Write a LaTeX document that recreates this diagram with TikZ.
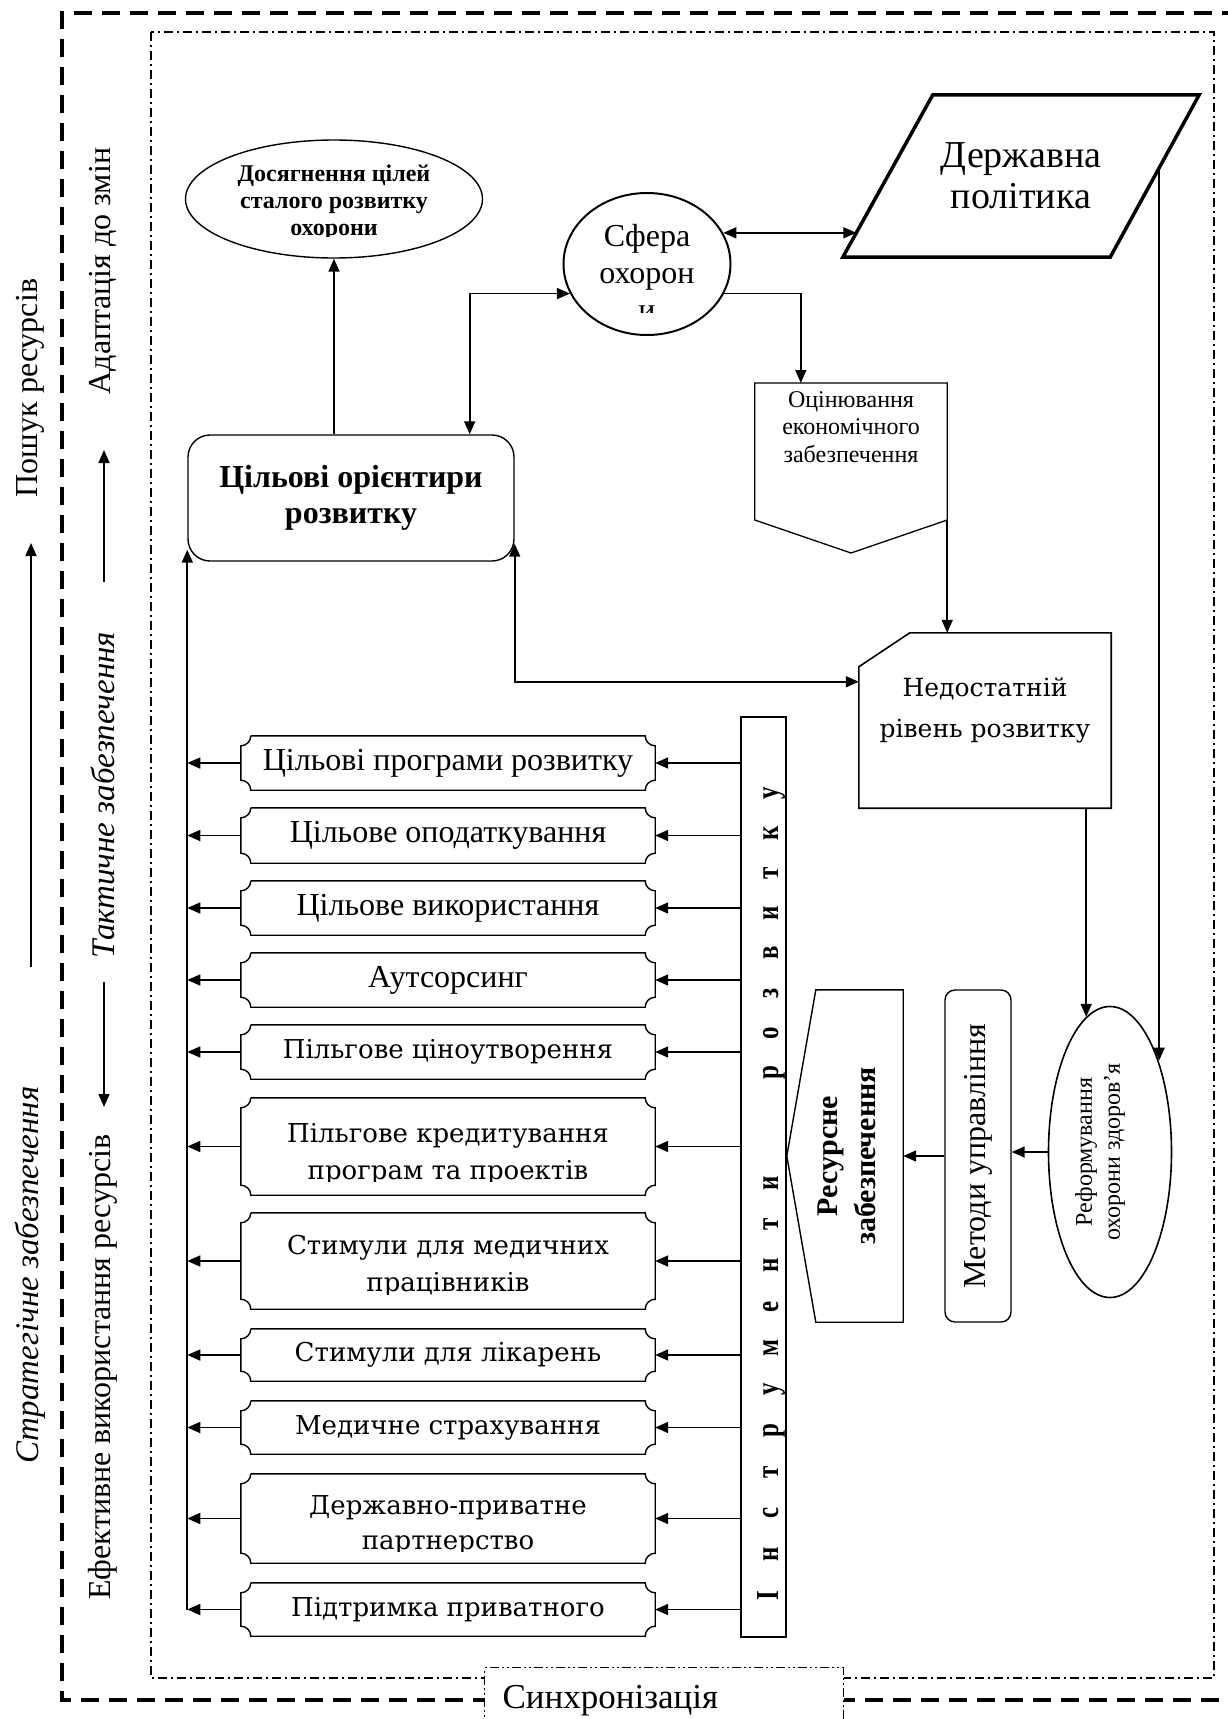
\documentclass[tikz,border=0pt]{standalone}
\usepackage{fontspec}
\setmainfont{Liberation Serif}
\newfontfamily\widefont{DejaVu Serif}
\usetikzlibrary{positioning,shapes.geometric,arrows.meta,calc}

\newcommand{\fsz}[2]{\fontsize{#1}{#2}\selectfont}
% outline with concave corners for the instrument boxes
\newcommand{\plaque}[1]{%
  \draw[line width=1.4pt]
    ($(#1.north west)+(10,0)$) -- ($(#1.north east)+(-10,0)$)
    .. controls +(0,5.5) and +(-5.5,0) .. ($(#1.north east)+(0,10)$)
    -- ($(#1.south east)+(0,-10)$)
    .. controls +(-5.5,0) and +(0,-5.5) .. ($(#1.south east)+(-10,0)$)
    -- ($(#1.south west)+(10,0)$)
    .. controls +(0,-5.5) and +(5.5,0) .. ($(#1.south west)+(0,-10)$)
    -- ($(#1.north west)+(0,10)$)
    .. controls +(5.5,0) and +(0,5.5) .. ($(#1.north west)+(10,0)$);}

\begin{document}
\begin{tikzpicture}[x=1pt,y=-1pt,
  conn/.style={line width=1.7pt},
  box/.style={draw,line width=1.4pt,inner sep=0pt,align=center},
  item/.style={inner sep=0pt,minimum width=414pt,align=center,font=\fsz{32}{36}},
  witem/.style={item,font=\widefont\fsz{26}{37}},
  side/.style={rotate=90,inner sep=0pt,font=\fsz{32}{36}},
  sideit/.style={side,font=\itshape\fsz{33}{36}},
  letter/.style={rotate=90,inner sep=0pt,anchor=base,font=\bfseries\fsz{32}{32}},
  >={Triangle[length=13pt,width=11pt]}
]

  \useasboundingbox (0,0) rectangle (1228,1719);

  %% ===== FRAMES =====

  % outer frame, open to the right
  \draw[line width=3.5pt,dash pattern=on 18pt off 10pt]
    (1240,13) -- (62,13) -- (62,1700) -- (1240,1700);
  % inner frame
  \draw[line width=1.2pt,dash pattern=on 9pt off 4pt on 2pt off 4pt]
    (151,32) rectangle (1214,1678);
  % tab on the bottom edge
  \node[draw,fill=white,line width=1.2pt,
        dash pattern=on 9pt off 3pt on 2pt off 3pt on 2pt off 3pt,
        anchor=north west,minimum height=66pt,inner xsep=18pt,
        text width=323pt,align=left,font=\fsz{35}{38}]
    (sync) at (484,1667) {Синхронізація};

  %% ===== SIDE LABELS =====

  \node[side] (poshuk) at (30,388) {Пошук ресурсів};
  \node[sideit] (strat) at (30,1275) {Стратегічне забезпечення};
  \node[side] (adapt) at (103,271) {Адаптація до змін};
  \node[sideit] (takt) at (103,795) {Тактичне забезпечення};
  \node[side] (efekt) at (103,1367) {Ефективне використання ресурсів};

  \coordinate (s1) at (31,967);  \coordinate (s2) at (31,543);
  \coordinate (t1) at (104,582); \coordinate (t2) at (104,450);
  \coordinate (t3) at (104,982); \coordinate (t4) at (104,1107);
  \draw[->,conn] (s1) -- (s2);
  \draw[->,conn] (t1) -- (t2);
  \draw[->,conn] (t3) -- (t4);

  %% ===== UPPER PART =====

  % goal ellipse (text cut at the bottom)
  \node[ellipse,draw,line width=1.4pt,minimum width=297pt,minimum height=118pt,
        inner sep=0pt] (dosyag) at (334,199) {};
  \begin{scope}
    \clip (180,140) rectangle (490,236);
    \node[font=\bfseries\fsz{24}{27},align=center] (dosyagtxt) at (334,203)
      {Досягнення цілей\\сталого розвитку\\охорони};
  \end{scope}

  % development targets
  \node[box,rounded corners=22pt,minimum width=326pt,minimum height=126pt,
        font=\bfseries\fsz{32}{36}] (orient) at (351,498)
    {Цільові орієнтири\\розвитку};

  % sphere circle (text cut at the bottom)
  \node[ellipse,draw,line width=2pt,minimum width=167pt,minimum height=142pt,
        inner sep=0pt] (sfera) at (647,264) {};
  \begin{scope}
    \clip (560,190) rectangle (735,312);
    \node[font=\fsz{32}{37},align=center] (sferatxt) at (647,272)
      {Сфера\\охорон\\и};
  \end{scope}

  % state policy parallelogram
  \node[minimum width=356pt,minimum height=162pt,inner sep=0pt,align=center,
        font=\fsz{38}{41}] (derzh) at (1021,176) {Державна\\політика};
  \draw[line width=3.5pt]
    (derzh.south west) -- coordinate[pos=0.15] (derzhl) ($(derzh.north west)+(90,0)$)
    -- (derzh.north east) -- coordinate[pos=0.45] (derzhr) ($(derzh.south east)+(-89,0)$)
    -- cycle;

  % assessment block, pointed bottom
  \node[anchor=north,minimum width=192pt,inner xsep=0pt,inner ysep=8pt,align=center,
        font=\fsz{24}{27.5}] (ocin) at (851,383)
    {Оцінювання\\економічного\\забезпечення};
  \draw[line width=1.3pt] (ocin.north west) -- (ocin.north east) -- ++(0,137) coordinate (ocinr)
    -- ($(ocin.north)+(0,170)$) -- ($(ocin.north west)+(0,137)$) -- cycle;

  % insufficient level, cut corner
  \node[minimum width=252pt,minimum height=175pt,inner sep=0pt] (nedost) at (985,720.5) {};
  \draw[line width=1.6pt] ($(nedost.north west)+(51,0)$) -- (nedost.north east)
    -- (nedost.south east) -- (nedost.south west) -- ($(nedost.north west)+(0,34)$) -- cycle;
  \node[font=\widefont\fsz{25}{41},align=center] (nedosttxt) at ($(nedost.center)+(0,-10)$)
    {Недостатній\\рівень розвитку};

  % connectors, upper part
  \draw[->,conn] (orient.north -| dosyag.south) -- (dosyag.south);
  \draw[<->,conn] ($(orient.north east)+(-45,0)$) |- (sfera.201);
  \draw[<->,conn] (sfera.22 |- derzhl) -- (derzhl);
  \draw[->,conn] (sfera.339) -| ($(ocin.north west)+(46,0)$);
  \draw[->,conn] (ocinr) -- (ocinr |- nedost.north);
  \draw[<->,conn] ($(orient.south east)+(0,-18)$) |- ($(nedost.north west)+(0,49)$);

  %% ===== RIGHT COLUMN =====

  \node[ellipse,draw,line width=1.6pt,minimum width=123pt,minimum height=291pt,
        inner sep=0pt] (reform) at (1110,1152) {};
  \node[rotate=90,align=center,font=\fsz{24}{28}] (reformtxt) at ($(reform.center)+(-10,0)$)
    {Реформування\\охорони здоров’я};

  \node[box,rounded corners=10pt,minimum width=66pt,minimum height=332pt,
        font=\fsz{32}{36}] (method) at (978,1156) {\rotatebox{90}{Методи управління}};

  \node[minimum width=87pt,minimum height=332pt,inner sep=0pt] (resurs) at (859.5,1156) {};
  \draw[line width=1.4pt] (resurs.north west) -- (resurs.north east) -- (resurs.south east)
    -- (resurs.south west) -- ($(resurs.west)+(-29,0)$) -- cycle;
  \node[rotate=90,align=center,font=\bfseries\fsz{30}{38}] (resurstxt)
    at ($(resurs.center)+(-13,0)$) {Ресурсне\\забезпечення};

  \draw[->,conn] (reform.100 |- nedost.south) -- (reform.100);
  \draw[->,conn] (derzhr) -- (derzhr |- reform.62);
  \draw[->,conn] (reform.west) -- (reform.west -| method.east);
  \draw[->,conn] (method.west) -- (method.west -| resurs.east);

  %% ===== INSTRUMENTS =====

  \node[draw,line width=1.4pt,minimum width=45pt,minimum height=920pt,inner sep=0pt]
    (instr) at (763.5,1177) {};
  \foreach \ch [count=\i] in {І,н,с,т,р,у,м,е,н,т,и}
    \node[letter] (ins\i) at (778,{1596-41.3*(\i-1)}) {\scalebox{0.78}[1]{\ch}};
  \foreach \ch [count=\i] in {р,о,з,в,и,т,к,у}
    \node[letter] (roz\i) at (778,{1073-40*(\i-1)}) {\scalebox{0.78}[1]{\ch}};

  % instrument boxes
  \node[item,minimum height=54pt] (i1) at (448,763) {Цільові програми розвитку};
  \node[item,minimum height=55pt] (i2) at (448,835.5) {Цільове оподаткування};
  \node[item,minimum height=54pt] (i3) at (448,908) {Цільове використання};
  \node[item,minimum height=54pt] (i4) at (448,980) {Аутсорсинг};
  \node[witem,minimum height=54pt] (i5) at (448,1052) {Пільгове ціноутворення};
  \node[item,minimum height=97pt] (i6) at (448,1146.5) {};
  \node[item,minimum height=96pt] (i7) at (448,1261) {};
  \node[witem,minimum height=52pt] (i8) at (448,1355) {Стимули для лікарень};
  \node[witem,minimum height=53pt] (i9) at (448,1427.5) {Медичне страхування};
  \node[item,minimum height=89pt] (i10) at (448,1518.5) {};
  \node[witem,minimum height=53pt] (i11) at (448,1609.5) {Підтримка приватного};

  % two-line texts, cut at the bottom
  \begin{scope}
    \clip (240,1098) rectangle (656,1181);
    \node[witem] (i6txt) at (448,1154.5) {Пільгове кредитування\\програм та проектів};
  \end{scope}
  \begin{scope}
    \clip (240,1213) rectangle (656,1294);
    \node[witem] (i7txt) at (448,1266.5) {Стимули для медичних\\працівників};
  \end{scope}
  \begin{scope}
    \clip (240,1474) rectangle (656,1551);
    \node[witem,font=\widefont\fsz{26}{35}] (i10txt) at (448,1525.5)
      {Державно-приватне\\партнерство};
  \end{scope}

  \foreach \n in {1,...,11} {
    \plaque{i\n}
    \draw[->,conn] (i\n.west) -- (i\n.west -| orient.west);
    \draw[->,conn] (i\n.east -| instr.west) -- (i\n.east);
  }

  % trunk to the targets box
  \draw[->,conn] (i11.west -| orient.west) -- ($(orient.south west)+(0,-12)$);

\end{tikzpicture}
\end{document}
